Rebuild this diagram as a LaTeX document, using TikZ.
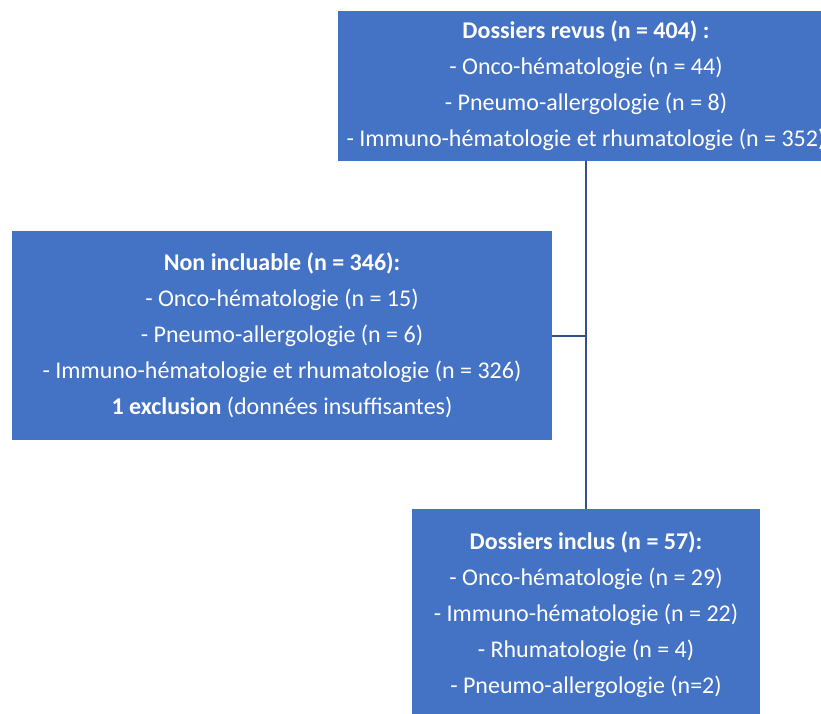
\documentclass[tikz,border=0pt]{standalone}
\usepackage{fontspec}
\setmainfont{Carlito}
\usetikzlibrary{positioning}
\definecolor{boxblue}{HTML}{4472C4}
\definecolor{lineblue}{HTML}{2F528F}
\tikzset{
  flowbox/.style={rectangle, fill=boxblue, text=white, align=center, inner sep=0pt,
    font=\fontsize{24}{36}\selectfont},
  link/.style={draw=lineblue, line width=2pt}
}
\begin{document}
\begin{tikzpicture}[x=1pt, y=1pt]
    \useasboundingbox (0,0) rectangle (821,713);
    \node[flowbox, minimum width=496, minimum height=150] (revus) at (586,627)
      {\textbf{Dossiers revus (n = 404) :}\\
       - Onco-hématologie (n = 44)\\
       - Pneumo-allergologie (n = 8)\\
       - Immuno-hématologie et rhumatologie (n = 352)};
    \node[flowbox, minimum width=540, minimum height=209] (noninc) at (282,377.5)
      {\textbf{Non incluable (n = 346):}\\
       - Onco-hématologie (n = 15)\\
       - Pneumo-allergologie (n = 6)\\
       - Immuno-hématologie et rhumatologie (n = 326)\\
       \textbf{1 exclusion} (données insuffisantes)};
    \node[flowbox, minimum width=348, minimum height=211] (inclus) at (586,98.5)
      {\textbf{Dossiers inclus (n = 57):}\\
       - Onco-hématologie (n = 29)\\
       - Immuno-hématologie (n = 22)\\
       - Rhumatologie (n = 4)\\
       - Pneumo-allergologie (n=2)};
    % connectors
    \draw[link] (revus.south) -- (inclus.north);
    \draw[link] (noninc.east) -- (noninc.east -| revus.south);
\end{tikzpicture}
\end{document}
